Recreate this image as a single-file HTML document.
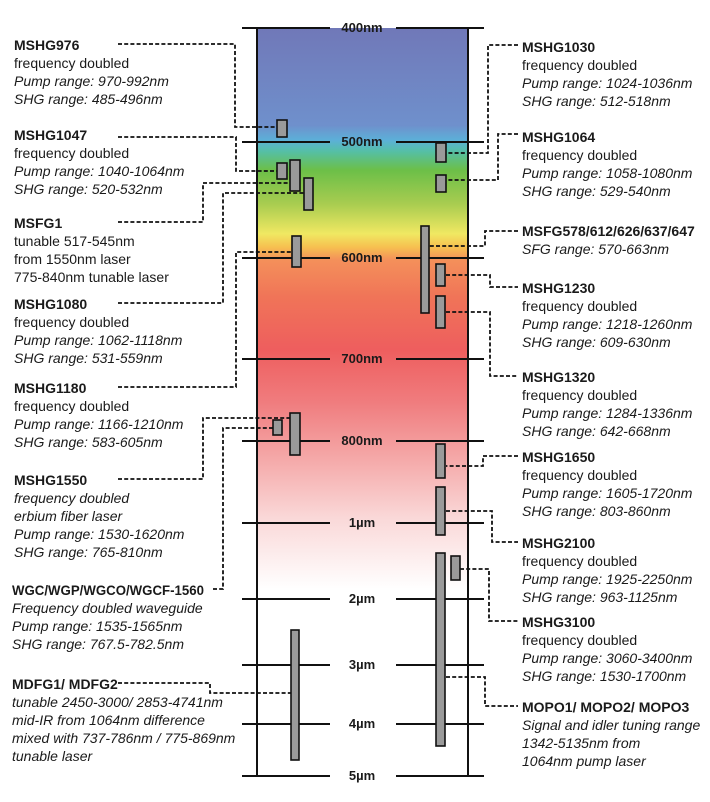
<!DOCTYPE html>
<html><head><meta charset="utf-8"><style>
html,body{margin:0;padding:0;background:#fff;}
svg{display:block;}
text{font-family:"Liberation Sans",sans-serif;font-size:14px;fill:#1a1a1a;}
.b{font-weight:bold;}
.i{font-style:italic;}
.t{font-weight:bold;font-size:13px;text-anchor:middle;fill:#1a1a1a;}
.d{fill:none;stroke:#111;stroke-width:1.8;stroke-dasharray:4,2.2;}
.bar{fill:#9a9a9a;stroke:#111;stroke-width:1.6;}
.tk{stroke:#111;stroke-width:2;}
</style></head><body>
<svg width="710" height="802" viewBox="0 0 710 802" xmlns="http://www.w3.org/2000/svg">
<defs>
<linearGradient id="g" x1="0" y1="28" x2="0" y2="776" gradientUnits="userSpaceOnUse">
<stop offset="0" stop-color="#7078b8"/>
<stop offset="0.13" stop-color="#6f90cc"/>
<stop offset="0.15" stop-color="#5cb0d8"/>
<stop offset="0.165" stop-color="#55bfa6"/>
<stop offset="0.19" stop-color="#6cbf48"/>
<stop offset="0.235" stop-color="#a8cc50"/>
<stop offset="0.275" stop-color="#f0e862"/>
<stop offset="0.293" stop-color="#f6c050"/>
<stop offset="0.31" stop-color="#f4905a"/>
<stop offset="0.36" stop-color="#f07458"/>
<stop offset="0.43" stop-color="#ee5e5e"/>
<stop offset="0.50" stop-color="#f07c7e"/>
<stop offset="0.565" stop-color="#f4a2a2"/>
<stop offset="0.655" stop-color="#fad8d8"/>
<stop offset="0.75" stop-color="#ffffff"/>
<stop offset="1" stop-color="#ffffff"/>
</linearGradient>
</defs>
<rect x="257" y="28" width="211" height="748" fill="url(#g)"/>
<line class="tk" x1="257" y1="28" x2="257" y2="777"/>
<line class="tk" x1="468" y1="28" x2="468" y2="777"/>
<g>
<line class="tk" x1="242" y1="28" x2="330" y2="28"/><line class="tk" x1="396" y1="28" x2="484" y2="28"/><text class="t" x="362" y="32">400nm</text>
<line class="tk" x1="242" y1="142" x2="330" y2="142"/><line class="tk" x1="396" y1="142" x2="484" y2="142"/><text class="t" x="362" y="146">500nm</text>
<line class="tk" x1="242" y1="258" x2="330" y2="258"/><line class="tk" x1="396" y1="258" x2="484" y2="258"/><text class="t" x="362" y="262">600nm</text>
<line class="tk" x1="242" y1="359" x2="330" y2="359"/><line class="tk" x1="396" y1="359" x2="484" y2="359"/><text class="t" x="362" y="363">700nm</text>
<line class="tk" x1="242" y1="441" x2="330" y2="441"/><line class="tk" x1="396" y1="441" x2="484" y2="441"/><text class="t" x="362" y="445">800nm</text>
<line class="tk" x1="242" y1="523" x2="330" y2="523"/><line class="tk" x1="396" y1="523" x2="484" y2="523"/><text class="t" x="362" y="527">1µm</text>
<line class="tk" x1="242" y1="599" x2="330" y2="599"/><line class="tk" x1="396" y1="599" x2="484" y2="599"/><text class="t" x="362" y="603">2µm</text>
<line class="tk" x1="242" y1="665" x2="330" y2="665"/><line class="tk" x1="396" y1="665" x2="484" y2="665"/><text class="t" x="362" y="669">3µm</text>
<line class="tk" x1="242" y1="724" x2="330" y2="724"/><line class="tk" x1="396" y1="724" x2="484" y2="724"/><text class="t" x="362" y="728">4µm</text>
<line class="tk" x1="242" y1="776" x2="330" y2="776"/><line class="tk" x1="396" y1="776" x2="484" y2="776"/><text class="t" x="362" y="780">5µm</text>
</g>
<path class="d" d="M118 44 H235 V127 H277"/>
<path class="d" d="M118 137 H236 V171 H277"/>
<path class="d" d="M118 222 H203 V183 H290"/>
<path class="d" d="M118 303 H223 V193 H304"/>
<path class="d" d="M118 387 H236 V252 H292"/>
<path class="d" d="M118 479 H203 V418 H290"/>
<path class="d" d="M213 589 H223 V428 H273"/>
<path class="d" d="M118 683 H210 V693 H291"/>
<path class="d" d="M518 45 H488 V153 H446"/>
<path class="d" d="M518 134 H498 V180 H446"/>
<path class="d" d="M518 231 H485 V246 H429"/>
<path class="d" d="M446 275 H490 V287 H518"/>
<path class="d" d="M446 312 H490 V376 H518"/>
<path class="d" d="M518 456 H483 V466 H446"/>
<path class="d" d="M446 511 H492 V542 H518"/>
<path class="d" d="M460 569 H489 V621 H518"/>
<path class="d" d="M446 677 H485 V706 H518"/>
<rect class="bar" x="277" y="120" width="10" height="17"/>
<rect class="bar" x="277" y="163" width="10" height="16"/>
<rect class="bar" x="290" y="160" width="10" height="31"/>
<rect class="bar" x="304" y="178" width="9" height="32"/>
<rect class="bar" x="292" y="236" width="9" height="31"/>
<rect class="bar" x="273" y="420" width="9" height="15"/>
<rect class="bar" x="290" y="413" width="10" height="42"/>
<rect class="bar" x="291" y="630" width="8" height="130"/>
<rect class="bar" x="436" y="143" width="10" height="19"/>
<rect class="bar" x="436" y="175" width="10" height="17"/>
<rect class="bar" x="421" y="226" width="8" height="87"/>
<rect class="bar" x="436" y="264" width="9" height="22"/>
<rect class="bar" x="436" y="296" width="9" height="32"/>
<rect class="bar" x="436" y="444" width="9" height="34"/>
<rect class="bar" x="436" y="487" width="9" height="48"/>
<rect class="bar" x="436" y="553" width="9" height="193"/>
<rect class="bar" x="451" y="556" width="9" height="24"/>
<text x="14" y="50"><tspan class="b">MSHG976</tspan><tspan x="14" dy="18">frequency doubled</tspan><tspan x="14" dy="18" class="i">Pump range: 970-992nm</tspan><tspan x="14" dy="18" class="i">SHG range: 485-496nm</tspan></text>
<text x="14" y="140"><tspan class="b">MSHG1047</tspan><tspan x="14" dy="18">frequency doubled</tspan><tspan x="14" dy="18" class="i">Pump range: 1040-1064nm</tspan><tspan x="14" dy="18" class="i">SHG range: 520-532nm</tspan></text>
<text x="14" y="228"><tspan class="b">MSFG1</tspan><tspan x="14" dy="18">tunable 517-545nm</tspan><tspan x="14" dy="18">from 1550nm laser</tspan><tspan x="14" dy="18">775-840nm tunable laser</tspan></text>
<text x="14" y="309"><tspan class="b">MSHG1080</tspan><tspan x="14" dy="18">frequency doubled</tspan><tspan x="14" dy="18" class="i">Pump range: 1062-1118nm</tspan><tspan x="14" dy="18" class="i">SHG range: 531-559nm</tspan></text>
<text x="14" y="393"><tspan class="b">MSHG1180</tspan><tspan x="14" dy="18">frequency doubled</tspan><tspan x="14" dy="18" class="i">Pump range: 1166-1210nm</tspan><tspan x="14" dy="18" class="i">SHG range: 583-605nm</tspan></text>
<text x="14" y="485"><tspan class="b">MSHG1550</tspan><tspan x="14" dy="18" class="i">frequency doubled</tspan><tspan x="14" dy="18" class="i">erbium fiber laser</tspan><tspan x="14" dy="18" class="i">Pump range: 1530-1620nm</tspan><tspan x="14" dy="18" class="i">SHG range: 765-810nm</tspan></text>
<text x="12" y="595" class="b" textLength="192" lengthAdjust="spacingAndGlyphs">WGC/WGP/WGCO/WGCF-1560</text>
<text x="12" y="613"><tspan class="i">Frequency doubled waveguide</tspan><tspan x="12" dy="18" class="i">Pump range: 1535-1565nm</tspan><tspan x="12" dy="18" class="i">SHG range: 767.5-782.5nm</tspan></text>
<text x="12" y="689"><tspan class="b">MDFG1/ MDFG2</tspan><tspan x="12" dy="18" class="i">tunable 2450-3000/ 2853-4741nm</tspan><tspan x="12" dy="18" class="i">mid-IR from 1064nm difference</tspan><tspan x="12" dy="18" class="i">mixed with 737-786nm / 775-869nm</tspan><tspan x="12" dy="18" class="i">tunable laser</tspan></text>
<text x="522" y="52"><tspan class="b">MSHG1030</tspan><tspan x="522" dy="18">frequency doubled</tspan><tspan x="522" dy="18" class="i">Pump range: 1024-1036nm</tspan><tspan x="522" dy="18" class="i">SHG range: 512-518nm</tspan></text>
<text x="522" y="142"><tspan class="b">MSHG1064</tspan><tspan x="522" dy="18">frequency doubled</tspan><tspan x="522" dy="18" class="i">Pump range: 1058-1080nm</tspan><tspan x="522" dy="18" class="i">SHG range: 529-540nm</tspan></text>
<text x="522" y="236"><tspan class="b">MSFG578/612/626/637/647</tspan><tspan x="522" dy="18" class="i">SFG range: 570-663nm</tspan></text>
<text x="522" y="293"><tspan class="b">MSHG1230</tspan><tspan x="522" dy="18">frequency doubled</tspan><tspan x="522" dy="18" class="i">Pump range: 1218-1260nm</tspan><tspan x="522" dy="18" class="i">SHG range: 609-630nm</tspan></text>
<text x="522" y="382"><tspan class="b">MSHG1320</tspan><tspan x="522" dy="18">frequency doubled</tspan><tspan x="522" dy="18" class="i">Pump range: 1284-1336nm</tspan><tspan x="522" dy="18" class="i">SHG range: 642-668nm</tspan></text>
<text x="522" y="462"><tspan class="b">MSHG1650</tspan><tspan x="522" dy="18">frequency doubled</tspan><tspan x="522" dy="18" class="i">Pump range: 1605-1720nm</tspan><tspan x="522" dy="18" class="i">SHG range: 803-860nm</tspan></text>
<text x="522" y="548"><tspan class="b">MSHG2100</tspan><tspan x="522" dy="18">frequency doubled</tspan><tspan x="522" dy="18" class="i">Pump range: 1925-2250nm</tspan><tspan x="522" dy="18" class="i">SHG range: 963-1125nm</tspan></text>
<text x="522" y="627"><tspan class="b">MSHG3100</tspan><tspan x="522" dy="18">frequency doubled</tspan><tspan x="522" dy="18" class="i">Pump range: 3060-3400nm</tspan><tspan x="522" dy="18" class="i">SHG range: 1530-1700nm</tspan></text>
<text x="522" y="712"><tspan class="b">MOPO1/ MOPO2/ MOPO3</tspan><tspan x="522" dy="18" class="i">Signal and idler tuning range</tspan><tspan x="522" dy="18" class="i">1342-5135nm from</tspan><tspan x="522" dy="18" class="i">1064nm pump laser</tspan></text>
</svg>
</body></html>
